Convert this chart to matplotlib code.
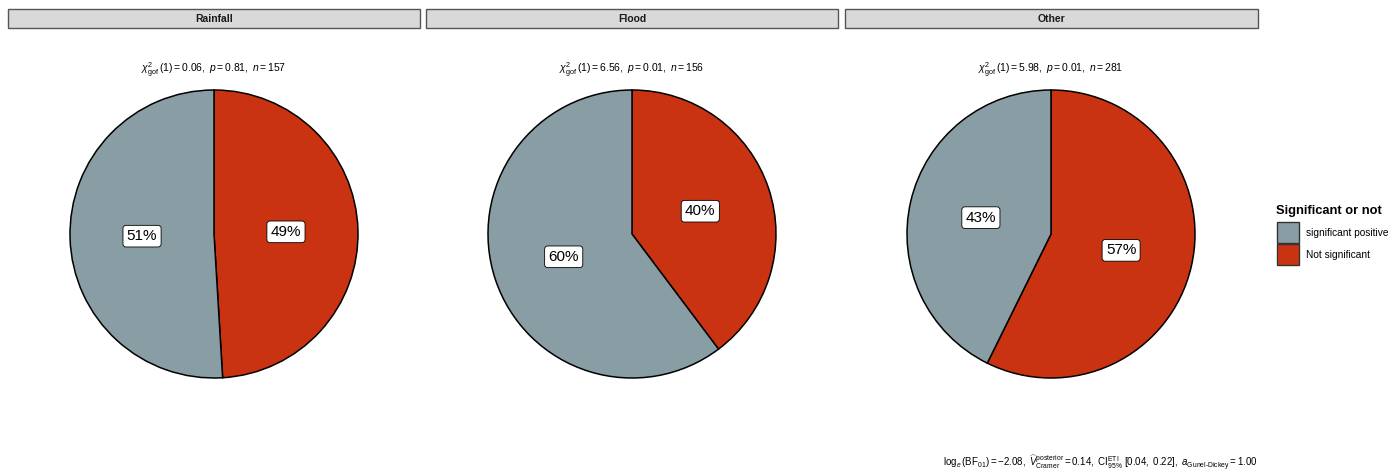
import matplotlib.pyplot as plt
from matplotlib.patches import Rectangle

plt.rcParams['font.family'] = ['Liberation Sans', 'DejaVu Sans']
plt.rcParams['mathtext.fontset'] = 'custom'
plt.rcParams['mathtext.rm'] = 'Liberation Sans'
plt.rcParams['mathtext.it'] = 'Liberation Sans:italic'
plt.rcParams['mathtext.bf'] = 'Liberation Sans:bold'

# counts per panel: (Not significant, significant positive)
panels = ['Rainfall', 'Flood', 'Other']
not_sig = [77, 62, 161]
sig_pos = [80, 94, 120]
chi2 = ['0.06', '6.56', '5.98']
pvals = ['0.81', '0.01', '0.01']
ns = [157, 156, 281]
categories = ['significant positive', 'Not significant']
colors = {'significant positive': '#899DA4', 'Not significant': '#C93312'}

W, H = 1395, 470
fig = plt.figure(figsize=(W / 100, H / 100), dpi=100)

centers_x = [214, 632, 1051]
cy = 234
R = 144
strips = [(8, 420), (426, 838), (845, 1258)]

for i, name in enumerate(panels):
    # facet strip
    x0, x1 = strips[i]
    fig.patches.append(Rectangle((x0 / W, 1 - 28 / H), (x1 - x0) / W, 19 / H,
                                 transform=fig.transFigure, facecolor='#D9D9D9',
                                 edgecolor='#555555', linewidth=1))
    fig.text((x0 + x1) / 2 / W, 1 - 18.5 / H, name, ha='center', va='center',
             fontsize=7.5, fontweight='bold', color='#1A1A1A')

    # subtitle
    sub = (r'$\chi^2_{\mathrm{gof}}\,(1) = %s,\ \mathit{p} = %s,\ \mathit{n} = %d$'
           % (chi2[i], pvals[i], ns[i]))
    fig.text(centers_x[i] / W, 1 - 70 / H, sub, ha='center', va='center', fontsize=7.5)

    lim = 1.02
    side = 2 * R * lim
    ax = fig.add_axes([(centers_x[i] - side / 2) / W, 1 - (cy + side / 2) / H,
                       side / W, side / H])
    vals = [not_sig[i], sig_pos[i]]
    tot = sum(vals)
    wedges, texts = ax.pie(vals, colors=[colors['Not significant'], colors['significant positive']],
                           startangle=90, counterclock=False, radius=1,
                           labels=['%d%%' % round(100 * v / tot) for v in vals],
                           labeldistance=0.5,
                           wedgeprops=dict(edgecolor='black', linewidth=1.1))
    for t in texts:
        t.set_ha('center')
        t.set_va('center')
        t.set_fontsize(11)
        t.set_bbox(dict(boxstyle='round,pad=0.25,rounding_size=0.2', facecolor='white',
                        edgecolor='black', linewidth=0.6))
    ax.set_xlim(-lim, lim)
    ax.set_ylim(-lim, lim)
    ax.set_aspect('equal')
    ax.axis('off')

# legend
fig.text(1276 / W, 1 - 211 / H, 'Significant or not', ha='left', va='center',
         fontsize=9.3, fontweight='bold')
for j, cat in enumerate(categories):
    top = 222 + j * 22
    fig.patches.append(Rectangle((1277 / W, 1 - (top + 21) / H), 22 / W, 21 / H,
                                 transform=fig.transFigure, facecolor=colors[cat],
                                 edgecolor='#333333', linewidth=1))
    fig.text(1306 / W, 1 - (top + 10.5) / H, cat, ha='left', va='center', fontsize=7.3)

# caption
cap = (r'$\log_{e}(\mathrm{BF}_{01}) = \mathrm{-2.08},\ '
       r'\widehat{\mathit{V}}^{\mathrm{posterior}}_{\mathrm{Cramer}} = 0.14,\ '
       r'\mathrm{CI}^{\mathrm{ETI}}_{95\%}\ [0.04,\ 0.22],\ '
       r'\mathit{a}_{\mathrm{Gunel\text{-}Dickey}} = 1.00$')
fig.text(1258 / W, 1 - 463 / H, cap, ha='right', va='center', fontsize=7.0)

fig.savefig('out.png', dpi=100)
